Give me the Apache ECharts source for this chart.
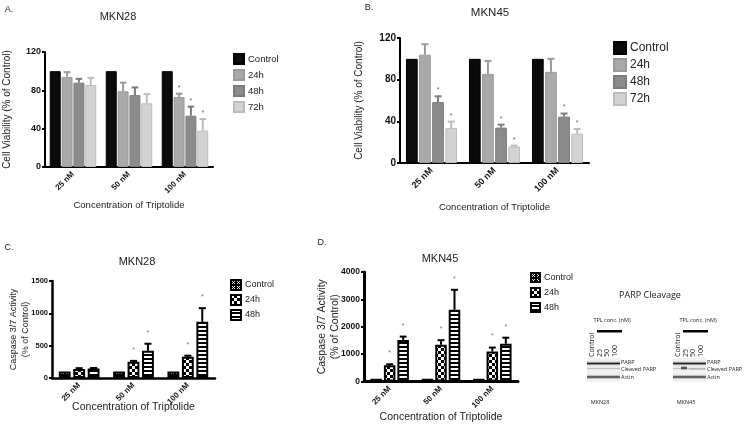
<!DOCTYPE html>
<html><head><meta charset="utf-8">
<script src="https://cdn.jsdelivr.net/npm/echarts@6/dist/echarts.min.js"></script>
<style>html,body{margin:0;padding:0;background:#fff}#c{width:744px;height:424px}</style>
</head><body><div id="c"></div>
<script>
// ---------- DATA ----------
const categories = ['25 nM', '50 nM', '100 nM'];

// Panel A: MKN28 cell viability (% of control)
const A_control = [100, 100, 100];
const A_24h = [94, 79, 73];     const A_24h_sd = [5, 9, 3.5];   const A_24h_sig = [0, 0, 1];
const A_48h = [88, 75, 53.5];   const A_48h_sd = [4, 8, 9.5];   const A_48h_sig = [0, 0, 1];
const A_72h = [85.5, 66.5, 38]; const A_72h_sd = [7.5, 9.5, 12]; const A_72h_sig = [0, 0, 1];

// Panel B: MKN45 cell viability (% of control)
const B_control = [100, 100, 100];
const B_24h = [104, 85.5, 87.5]; const B_24h_sd = [10, 12.5, 12.5]; const B_24h_sig = [0, 0, 0];
const B_48h = [58.5, 34, 44.5];  const B_48h_sd = [5.5, 2.8, 3];    const B_48h_sig = [1, 1, 1];
const B_72h = [33.5, 15.7, 28.2]; const B_72h_sd = [6.2, 1, 4.4];   const B_72h_sig = [1, 1, 1];

// Panel C: MKN28 caspase 3/7 activity (% of control)
const C_control = [100, 100, 100];
const C_24h = [140, 250, 330]; const C_24h_sd = [12, 15, 15];    const C_24h_sig = [0, 1, 1];
const C_48h = [145, 420, 870]; const C_48h_sd = [10, 110, 210];  const C_48h_sig = [0, 1, 1];

// Panel D: MKN45 caspase 3/7 activity (% of control)
const D_control = [100, 100, 100];
const D_24h = [590, 1340, 1100];  const D_24h_sd = [40, 170, 140]; const D_24h_sig = [1, 1, 1];
const D_48h = [1520, 2620, 1380]; const D_48h_sd = [120, 730, 220]; const D_48h_sig = [1, 1, 1];

const legendAB = ['Control', '24h', '48h', '72h'];
const legendC = ['C:Control', 'C:24h', 'C:48h'];
const legendD = ['D:Control', 'D:24h', 'D:48h'];

// ---------- STYLE ----------
const fam = '"Liberation Sans", Arial, Helvetica, sans-serif';
const blotFam = '"Open Sans", "Liberation Sans", sans-serif';

function mkPattern(kind) {
  const c = document.createElement('canvas');
  const x = c.getContext('2d');
  if (kind === 'x') {
    c.width = c.height = 5; x.fillStyle = '#000'; x.fillRect(0, 0, 5, 5);
    x.strokeStyle = '#fff'; x.lineWidth = 0.9;
    x.beginPath(); x.moveTo(1, 1); x.lineTo(4, 4); x.moveTo(4, 1); x.lineTo(1, 4); x.stroke();
  } else if (kind === 'check') {
    c.width = c.height = 6; x.fillStyle = '#000'; x.fillRect(0, 0, 6, 6);
    x.fillStyle = '#fff'; x.fillRect(0, 0, 3, 3); x.fillRect(3, 3, 3, 3);
  } else {
    c.width = 4; c.height = 4; x.fillStyle = '#fff'; x.fillRect(0, 0, 4, 4);
    x.fillStyle = '#000'; x.fillRect(0, 2, 4, 2);
  }
  return { image: c, repeat: 'repeat' };
}
const patX = mkPattern('x'), patCheck = mkPattern('check'), patStripe = mkPattern('stripe');

const grey = {
  control: { fill: '#0b0b0b', border: '#000' },
  h24: { fill: '#a9a9a9', border: '#9a9a9a' },
  h48: { fill: '#8b8b8b', border: '#7c7c7c' },
  h72: { fill: '#d3d3d3', border: '#bcbcbc' }
};

const cfg = [
  { catGap: 0.17, barGap: 0.08 },
  { catGap: 0.19, barGap: 0.12 },
  { catGap: 0.25, barGap: 0.22 },
  { catGap: 0.25, barGap: 0.17 }
];

function bar(name, data, xi, fill, border, bw) {
  return {
    type: 'bar', name: name, data: data, xAxisIndex: xi, yAxisIndex: xi,
    barCategoryGap: (cfg[xi].catGap * 100) + '%', barGap: (cfg[xi].barGap * 100) + '%',
    itemStyle: { color: fill, borderColor: border, borderWidth: bw },
    emphasis: { disabled: true }, animation: false, silent: true
  };
}

function err(xi, i, n, vals, sds, sigs, color, lw, astGap, astColor) {
  const catGap = cfg[xi].catGap, barGap = cfg[xi].barGap;
  return {
    type: 'custom', xAxisIndex: xi, yAxisIndex: xi, z: 5, silent: true, animation: false,
    data: vals.map((v, k) => [k, v, sds[k] || 0, sigs[k] || 0]),
    renderItem: function (params, api) {
      const k = api.value(0), v = api.value(1), sd = api.value(2), sig = api.value(3);
      const bw = api.size([1, 0])[0];
      const usable = bw * (1 - catGap);
      const w = usable / (n + (n - 1) * barGap);
      const cx = api.coord([k, 0])[0] - usable / 2 + i * w * (1 + barGap) + w / 2;
      const y0 = api.coord([k, v])[1], y1 = api.coord([k, v + sd])[1];
      const ch = [];
      if (sd > 0) {
        ch.push({ type: 'line', shape: { x1: cx, y1: y0, x2: cx, y2: y1 }, style: { stroke: color, lineWidth: lw } });
        ch.push({ type: 'line', shape: { x1: cx - w * 0.3, y1: y1, x2: cx + w * 0.3, y2: y1 }, style: { stroke: color, lineWidth: lw } });
      }
      if (sig) {
        ch.push({ type: 'text', style: { text: '*', x: cx, y: y1 - astGap, align: 'center', verticalAlign: 'middle', fill: astColor, font: '7px ' + fam } });
      }
      return { type: 'group', children: ch };
    }
  };
}

function xAxis(gi, fs, lw, name, gap, nfs) {
  return {
    type: 'category', gridIndex: gi, data: categories,
    axisLine: { lineStyle: { color: '#000', width: lw } },
    axisTick: { alignWithLabel: true, length: 3, lineStyle: { color: '#000', width: 2 } },
    axisLabel: { rotate: 45, interval: 0, fontWeight: 'bold', fontSize: fs, fontFamily: fam, color: '#111', margin: 6 },
    name: name, nameLocation: 'middle', nameGap: gap, nameMoveOverlap: false,
    nameTextStyle: { fontSize: nfs, fontFamily: fam, color: '#222' }
  };
}
function yAxis(gi, max, interval, fs, lw, name, gap, nfs, lh) {
  return {
    type: 'value', gridIndex: gi, min: 0, max: max, interval: interval,
    axisLine: { show: true, lineStyle: { color: '#000', width: lw } },
    axisTick: { show: true, length: 3, lineStyle: { color: '#000', width: 2 } },
    axisLabel: { fontWeight: 'bold', fontSize: fs, fontFamily: fam, color: '#111', margin: 4, formatter: v => String(v) },
    splitLine: { show: false },
    name: name, nameLocation: 'middle', nameGap: gap, nameRotate: 90, nameMoveOverlap: false,
    nameTextStyle: { fontSize: nfs, fontFamily: fam, color: '#222', lineHeight: lh }
  };
}

function legend(data, left, top, sz, gap, fs) {
  return {
    data: data, left: left, top: top, orient: 'vertical', icon: 'rect', padding: 0,
    itemWidth: sz, itemHeight: sz, itemGap: gap, selectedMode: false,
    formatter: n => n.indexOf(':') >= 0 ? n.split(':')[1] : n,
    textStyle: { fontSize: fs, fontFamily: fam, color: '#222', padding: [0, 0, 0, -1] }
  };
}

// ---------- BLOT (image decoration) ----------
function txt(t, x, y, size, opts) {
  opts = opts || {};
  return {
    type: 'text', x: x, y: y, rotation: opts.rot || 0, silent: true,
    style: { text: t, align: opts.align || 'center', verticalAlign: opts.va || 'middle', fill: opts.fill || '#222', font: (opts.weight || 'normal') + ' ' + size + 'px ' + (opts.fam || fam) }
  };
}
function rect(x, y, w, h, fill) {
  return { type: 'rect', silent: true, shape: { x: x, y: y, width: w, height: h }, style: { fill: fill } };
}
function band(x, y, w, h, color) {
  return { type: 'rect', silent: true, shape: { x: x, y: y, width: w, height: h, r: 1 },
    style: { fill: { type: 'linear', x: 0, y: 0, x2: 0, y2: 1, colorStops: [
      { offset: 0, color: 'rgba(255,255,255,0)' }, { offset: 0.5, color: color }, { offset: 1, color: 'rgba(255,255,255,0)' }] } } };
}
function blot(x0, label, extra) {
  const els = [];
  els.push(txt('TPL conc. (nM)', x0 + 25, 320, 5.5, { fam: blotFam }));
  els.push(rect(x0 + 10, 330, 25, 2.5, '#000'));
  const lanes = [{ t: 'Control', dx: 4.5 }, { t: '25', dx: 13 }, { t: '50', dx: 20 }, { t: '100', dx: 27.5 }];
  lanes.forEach(l => els.push(txt(l.t, x0 + l.dx, 357, 7, { rot: Math.PI / 2, align: 'left', fam: blotFam })));
  els.push(rect(x0, 358, 33, 24, '#f1f1f1'));
  els.push(band(x0, 360.5, 33, 6, '#1e1e1e'));
  els.push(band(x0, 366.5, 33, 4, '#c0c0c0'));
  els.push(band(x0, 374, 33, 6, '#202020'));
  extra.forEach(e => els.push(e));
  els.push(txt('PARP', x0 + 34, 362.5, 5.5, { align: 'left', fam: blotFam }));
  els.push(txt('Cleaved PARP', x0 + 34, 369, 5.5, { align: 'left', fam: blotFam }));
  els.push(txt('Actin', x0 + 34, 377, 5.5, { align: 'left', fam: blotFam }));
  els.push(txt(label, x0 + 13, 402, 5.5, { fam: blotFam }));
  return els;
}

const graphics = [
  txt('A.', 9, 10, 9),
  txt('B.', 369, 8, 9),
  txt('C.', 9, 248, 9),
  txt('D.', 322, 243, 9),
  txt('MKN28', 118, 17, 11),
  txt('MKN45', 490, 13, 11.5),
  txt('MKN28', 137, 262, 11),
  txt('MKN45', 440, 259, 11),
  txt('PARP Cleavage', 650, 295, 9, { fam: blotFam })
].concat(
  blot(587, 'MKN28', []),
  blot(673, 'MKN45', [band(681, 365, 6, 6, '#111'), band(689, 367.5, 16, 3, '#8a8a8a')])
);

// ---------- CHART ----------
const chart = echarts.init(document.getElementById('c'), null, { renderer: 'canvas' });
chart.setOption({
  animation: false,
  backgroundColor: '#fff',
  grid: [
    { left: 40, top: 52, width: 173, height: 115 },
    { left: 400, top: 38, width: 189, height: 125 },
    { left: 52, top: 281, width: 163, height: 97 },
    { left: 364, top: 272, width: 154, height: 110 }
  ],
  xAxis: [
    xAxis(0, 8, 2, 'Concentration of Triptolide', 33, 9.5),
    xAxis(1, 9, 2, 'Concentration of Triptolide', 39, 9.5),
    xAxis(2, 8, 2.5, 'Concentration of Triptolide', 23.5, 10.5),
    xAxis(3, 8, 3, 'Concentration of Triptolide', 30.5, 10.5)
  ],
  yAxis: [
    yAxis(0, 120, 40, 9, 2, 'Cell Viability (% of Control)', 32, 10, 12),
    yAxis(1, 120, 40, 10, 2, 'Cell Viability (% of Control)', 35, 10, 12),
    yAxis(2, 1500, 500, 7.5, 2.5, 'Caspase 3/7 Activity\n(% of Control)', 20, 9, 12),
    yAxis(3, 4000, 1000, 8.5, 3, 'Caspase 3/7 Activity\n(% of Control)', 22, 10.5, 13)
  ],
  legend: [
    legend(legendAB, 233, 53, 10, 4, 9.5),
    legend(legendAB, 613, 41, 12, 3, 12),
    legend(legendC, 230, 279, 10, 3, 9),
    legend(legendD, 530, 272, 9, 4, 9)
  ],
  series: [
    bar('Control', A_control, 0, grey.control.fill, grey.control.border, 1),
    bar('24h', A_24h, 0, grey.h24.fill, grey.h24.border, 1),
    bar('48h', A_48h, 0, grey.h48.fill, grey.h48.border, 1),
    bar('72h', A_72h, 0, grey.h72.fill, grey.h72.border, 1),
    err(0, 1, 4, A_24h, A_24h_sd, A_24h_sig, grey.h24.border, 2, 6, '#666'),
    err(0, 2, 4, A_48h, A_48h_sd, A_48h_sig, grey.h48.border, 2, 6, '#666'),
    err(0, 3, 4, A_72h, A_72h_sd, A_72h_sig, grey.h72.border, 2, 6, '#666'),

    bar('Control', B_control, 1, grey.control.fill, grey.control.border, 1),
    bar('24h', B_24h, 1, grey.h24.fill, grey.h24.border, 1),
    bar('48h', B_48h, 1, grey.h48.fill, grey.h48.border, 1),
    bar('72h', B_72h, 1, grey.h72.fill, grey.h72.border, 1),
    err(1, 1, 4, B_24h, B_24h_sd, B_24h_sig, grey.h24.border, 2, 6, '#666'),
    err(1, 2, 4, B_48h, B_48h_sd, B_48h_sig, grey.h48.border, 2, 6, '#666'),
    err(1, 3, 4, B_72h, B_72h_sd, B_72h_sig, grey.h72.border, 2, 6, '#666'),

    bar('C:Control', C_control, 2, patX, '#000', 2),
    bar('C:24h', C_24h, 2, patCheck, '#000', 2),
    bar('C:48h', C_48h, 2, patStripe, '#000', 2),
    err(2, 1, 3, C_24h, C_24h_sd, C_24h_sig, '#000', 2, 11, '#777'),
    err(2, 2, 3, C_48h, C_48h_sd, C_48h_sig, '#000', 2, 11, '#777'),

    bar('D:Control', D_control, 3, patX, '#000', 2),
    bar('D:24h', D_24h, 3, patCheck, '#000', 2),
    bar('D:48h', D_48h, 3, patStripe, '#000', 2),
    err(3, 1, 3, D_24h, D_24h_sd, D_24h_sig, '#000', 2, 11, '#777'),
    err(3, 2, 3, D_48h, D_48h_sd, D_48h_sig, '#000', 2, 11, '#777')
  ],
  graphic: graphics
});
</script></body></html>
